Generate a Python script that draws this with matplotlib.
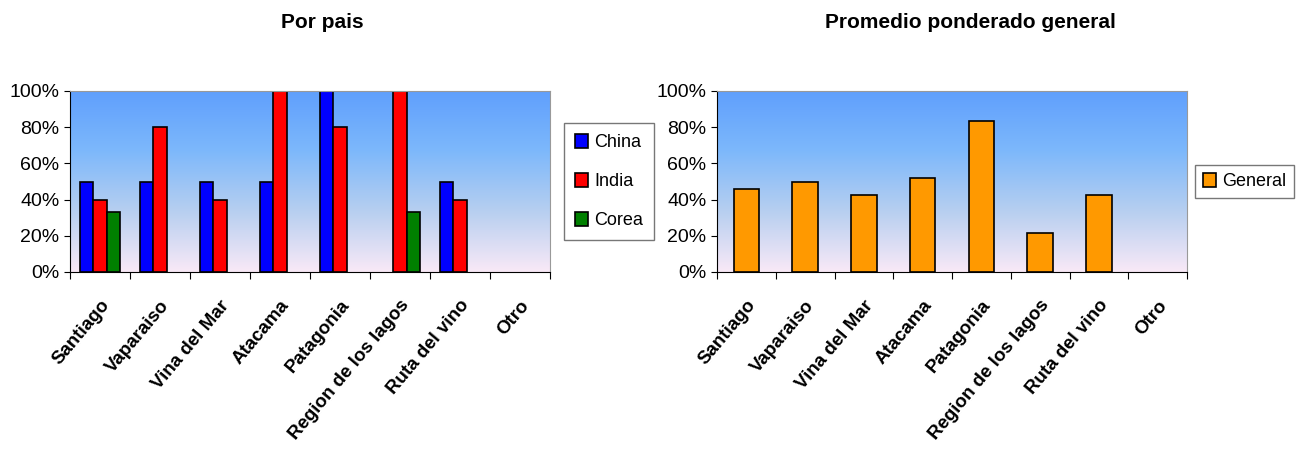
import numpy as np
import matplotlib
matplotlib.use("Agg")
import matplotlib.pyplot as plt
from matplotlib.colors import LinearSegmentedColormap
from matplotlib.ticker import PercentFormatter
from matplotlib.transforms import ScaledTranslation

plt.rcParams['font.family'] = ['Liberation Sans', 'DejaVu Sans']

categorias = ["Santiago", "Vaparaiso", "Vina del Mar", "Atacama", "Patagonia",
              "Region de los lagos", "Ruta del vino", "Otro"]
china = [0.50, 0.50, 0.50, 0.50, 1.00, 0.00, 0.50, 0.00]
india = [0.40, 0.80, 0.40, 1.00, 0.80, 1.00, 0.40, 0.00]
corea = [0.333, 0.0, 0.0, 0.0, 0.0, 0.333, 0.0, 0.0]
general = [0.46, 0.495, 0.425, 0.52, 0.837, 0.216, 0.425, 0.0]

grad = LinearSegmentedColormap.from_list("bg", ["#f9e9f7", "#b7cff0", "#7db8fb", "#5f9ffd"])

fig = plt.figure(figsize=(13.09, 4.53), dpi=100)
ax1 = fig.add_axes([70/1309, 1-272/453, 480/1309, 181/453])
ax2 = fig.add_axes([717/1309, 1-272/453, 470/1309, 181/453])

def fondo(ax):
    g = np.linspace(0, 1, 256).reshape(-1, 1)
    ax.imshow(g, cmap=grad, aspect='auto', extent=[0, 1, 0, 1],
              transform=ax.transAxes, origin='lower', zorder=0)

def estilo(ax):
    n = len(categorias)
    ax.set_xlim(0, n)
    ax.set_ylim(0, 1)
    ax.yaxis.set_major_formatter(PercentFormatter(1.0, decimals=0))
    ax.set_yticks(np.arange(0, 1.01, 0.2))
    ax.set_xticks(np.arange(0, n + 1), minor=False)
    ax.set_xticklabels([])
    ax.set_xticks(np.arange(n) + 0.5, minor=True)
    ax.set_xticklabels(categorias, minor=True, rotation=50, ha='right', va='top',
                       rotation_mode='anchor', fontsize=13.5, fontweight='bold')
    desplaza = ScaledTranslation(-8/100, 0, fig.dpi_scale_trans)
    for lab in ax.get_xticklabels(minor=True):
        lab.set_transform(lab.get_transform() + desplaza)
    ax.tick_params(axis='x', which='minor', length=0, pad=18)
    ax.tick_params(axis='x', which='major', length=5, direction='out')
    ax.tick_params(axis='y', labelsize=14, length=4, direction='out')
    for s in ['top', 'right']:
        ax.spines[s].set_color('#999999')
    for s in ['left', 'bottom']:
        ax.spines[s].set_color('black')

def barras(ax, pos, vals, w, color, label):
    vals = np.array(vals)
    m = vals > 0
    ax.bar(pos[m], vals[m], w, color=color, edgecolor='black', lw=1.2,
           label=label, zorder=2)

fondo(ax1)
x = np.arange(len(categorias)) + 0.5
w = 0.22
barras(ax1, x - w, china, w, '#0000ff', 'China')
barras(ax1, x, india, w, '#ff0000', 'India')
barras(ax1, x + w, corea, w, '#008000', 'Corea')
estilo(ax1)
ax1.legend(loc='center left', bbox_to_anchor=(1.03, 0.5), fontsize=13,
           frameon=True, fancybox=False, edgecolor='#555555',
           handlelength=0.7, handleheight=0.8, handletextpad=0.35,
           labelspacing=1.2, borderpad=0.6, borderaxespad=0)

fondo(ax2)
barras(ax2, x, general, 0.43, '#ff9900', 'General')
estilo(ax2)
ax2.legend(loc='center left', bbox_to_anchor=(1.017, 0.5), fontsize=13,
           frameon=True, fancybox=False, edgecolor='#555555',
           handlelength=0.7, handleheight=0.8, handletextpad=0.35,
           borderpad=0.45, borderaxespad=0)

fig.text(322/1309, 1-22/453, "Por pais", ha='center', va='center', fontsize=15,
         fontweight='bold')
fig.text(970/1309, 1-22/453, "Promedio ponderado general", ha='center', va='center',
         fontsize=15, fontweight='bold')

fig.savefig("out.png", dpi=100)
